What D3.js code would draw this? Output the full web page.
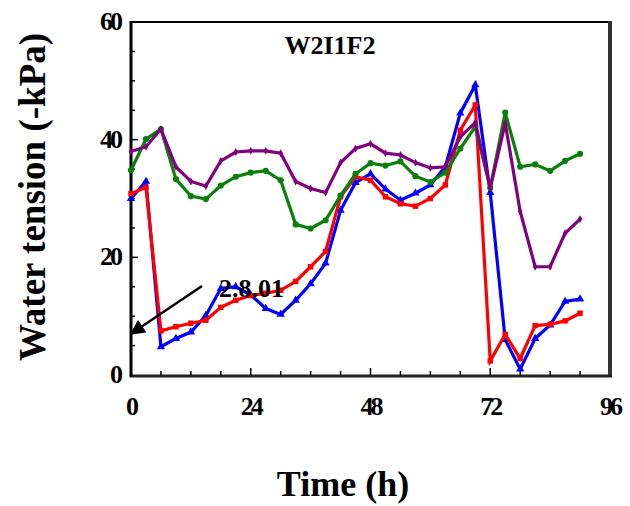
<!DOCTYPE html>
<html>
<head>
<meta charset="utf-8">
<script src="https://cdn.jsdelivr.net/npm/d3@7"></script>
<style>
  body { margin: 0; background: #fff; }
  text { font-family: "Liberation Serif", "Times New Roman", serif; font-weight: bold; }
</style>
</head>
<body>
<svg width="630" height="506"></svg>
<script>
// hours, every 3 h
const hours = d3.range(0, 91, 3);
const blue = [30.0, 32.9, 4.8, 6.2, 7.3, 10.1, 14.7, 15.0, 13.6, 11.3, 10.3, 12.7, 15.5, 19.0, 28.0, 32.7,
  34.2, 31.6, 29.7, 30.9, 32.3, 35.4, 44.5, 49.3, 31.0, 6.0, 1.0, 6.2, 8.5, 12.5, 12.9];
const red = [30.8, 31.9, 7.5, 8.2, 8.8, 9.3, 11.5, 12.7, 13.5, 13.9, 14.4, 15.9, 18.4, 21.0, 30.3, 33.7,
  33.1, 30.3, 29.1, 28.7, 30.0, 32.3, 41.6, 45.9, 2.4, 6.9, 2.8, 8.4, 8.6, 9.2, 10.5];
const green = [34.8, 40.1, 41.8, 33.3, 30.4, 29.9, 32.2, 33.7, 34.4, 34.7, 33.1, 25.6, 24.9, 26.3, 30.5, 34.2,
  36.0, 35.6, 36.3, 33.8, 32.8, 34.4, 38.5, 42.2, 31.8, 44.6, 35.4, 35.8, 34.7, 36.4, 37.6];
const purple = [38.0, 38.8, 41.8, 35.4, 32.9, 32.1, 36.4, 37.9, 38.1, 38.1, 37.7, 32.9, 31.7, 31.0, 36.1, 38.5,
  39.3, 37.7, 37.4, 36.1, 35.2, 35.4, 40.5, 42.9, 31.8, 42.8, 27.8, 18.4, 18.4, 24.1, 26.5];
const xTicks = [0, 24, 48, 72, 96];
const yTicks = [0, 20, 40, 60];

const svg = d3.select("svg");
const x = d3.scaleLinear().domain([0, 96]).range([131, 610]);
const y = d3.scaleLinear().domain([0, 60]).range([375, 22]);

// frame: right and bottom edges darker / thicker
svg.append("line").attr("x1", 131).attr("x2", 610).attr("y1", 22).attr("y2", 22)
  .attr("stroke", "#000").attr("stroke-width", 2);
svg.append("line").attr("x1", 610).attr("x2", 610).attr("y1", 21).attr("y2", 377)
  .attr("stroke", "#333").attr("stroke-width", 4);
svg.append("line").attr("x1", 130).attr("x2", 612).attr("y1", 376).attr("y2", 376)
  .attr("stroke", "#222").attr("stroke-width", 3);
svg.append("line").attr("x1", 131).attr("x2", 131).attr("y1", 21).attr("y2", 377)
  .attr("stroke", "#000").attr("stroke-width", 3);

// inside ticks
svg.selectAll(".xt").data(d3.range(6, 96, 6)).enter().append("line")
  .attr("x1", d => x(d)).attr("x2", d => x(d))
  .attr("y1", 375).attr("y2", d => d % 24 === 0 ? 368 : 371)
  .attr("stroke", "#000").attr("stroke-width", 1.5);
svg.selectAll(".yt").data(d3.range(5, 60, 5)).enter().append("line")
  .attr("x1", 131).attr("x2", d => d % 20 === 0 ? 138 : 135)
  .attr("y1", d => y(d)).attr("y2", d => y(d))
  .attr("stroke", "#000").attr("stroke-width", 1.5);

// tick labels
svg.selectAll(".xl").data(xTicks).enter().append("text")
  .attr("x", d => x(d)).attr("y", 415)
  .attr("text-anchor", "middle").attr("font-size", 26).attr("letter-spacing", -3)
  .text(d => d);
svg.selectAll(".yl").data(yTicks).enter().append("text")
  .attr("x", 120).attr("y", d => y(d) + 8)
  .attr("text-anchor", "end").attr("font-size", 26).attr("letter-spacing", -3)
  .text(d => d);

// axis titles
svg.append("text").attr("x", 343).attr("y", 496).attr("text-anchor", "middle")
  .attr("font-size", 36).text("Time (h)");
svg.append("text").attr("transform", "translate(45,197) rotate(-90)").attr("text-anchor", "middle")
  .attr("font-size", 37).text("Water tension (-kPa)");

svg.append("text").attr("x", 330).attr("y", 54).attr("text-anchor", "middle")
  .attr("font-size", 26).text("W2I1F2");

// series
const series = [
  { name: "blue", values: blue, color: "#0000ff", shape: d3.symbolTriangle, size: 30 },
  { name: "red", values: red, color: "#ff0000", shape: d3.symbolSquare, size: 30 },
  { name: "green", values: green, color: "#0a800a", shape: d3.symbolCircle, size: 30 },
  { name: "purple", values: purple, color: "#800080", shape: d3.symbolDiamond, size: 18 }
];
const line = d3.line().x((d, i) => x(hours[i])).y(d => y(d));

series.forEach(s => {
  const g = svg.append("g").attr("class", s.name);
  g.append("path").datum(s.values).attr("d", line)
    .attr("fill", "none").attr("stroke", s.color).attr("stroke-width", 3.2);
  g.selectAll("path.m").data(s.values).enter().append("path").attr("class", "m")
    .attr("transform", (d, i) => `translate(${x(hours[i])},${y(d)})`)
    .attr("d", d3.symbol().type(s.shape).size(s.size))
    .attr("fill", s.color);
});

// annotation with arrow
svg.append("defs").append("marker").attr("id", "arr")
  .attr("viewBox", "0 0 10 10").attr("refX", 9).attr("refY", 5)
  .attr("markerWidth", 7).attr("markerHeight", 6).attr("orient", "auto")
  .attr("markerUnits", "strokeWidth")
  .append("path").attr("d", "M0,0L10,5L0,10Z").attr("fill", "#000");
svg.append("line").attr("x1", 202).attr("y1", 286).attr("x2", x(0)).attr("y2", y(7))
  .attr("stroke", "#000").attr("stroke-width", 2.5).attr("marker-end", "url(#arr)");
svg.append("text").attr("x", 219).attr("y", 297).attr("font-size", 26).text("2.8.01");
</script>
</body>
</html>
